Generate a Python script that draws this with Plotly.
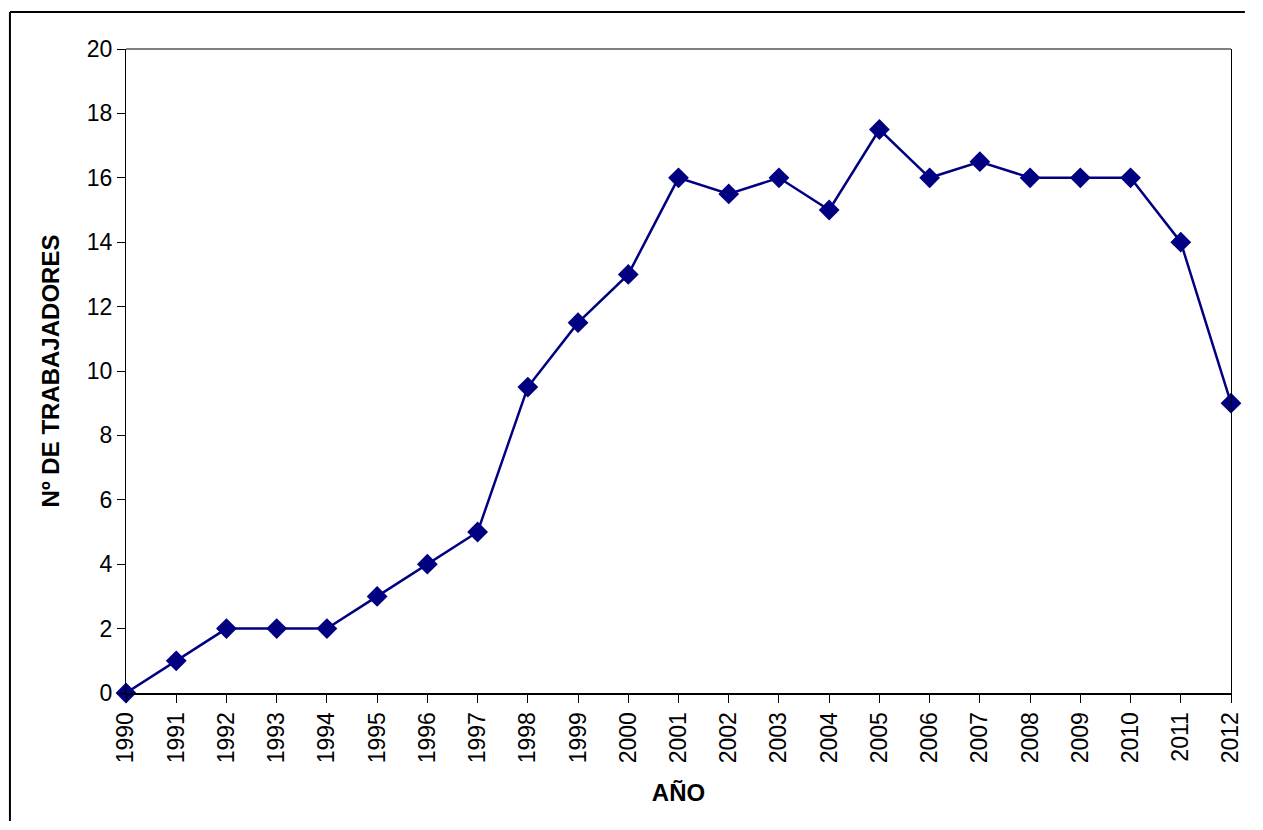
import plotly.graph_objects as go

years = list(range(1990, 2013))
workers = [0, 1, 2, 2, 2, 3, 4, 5, 9.5, 11.5, 13, 16, 15.5, 16, 15, 17.5, 16, 16.5, 16, 16, 16, 14, 9]
y_ticks = list(range(0, 21, 2))

OFF = 8  # page body margin
W, H = 1247, 814
L, R, T, B = 126 - OFF, 1240 - OFF, 49 - OFF, 693 - OFF
pw, ph = R - L, B - T

def px(x):
    return (x - OFF - L) / pw

def py(y):
    return (B - (y - OFF)) / ph

fig = go.Figure()
fig.add_trace(go.Scatter(
    x=years, y=workers, mode="lines+markers",
    line=dict(color="#000080", width=2.5),
    marker=dict(symbol="diamond", size=16, color="#000080"),
    cliponaxis=False, showlegend=False,
))

font_family = "Liberation Sans, Arial, sans-serif"

fig.update_layout(
    width=W, height=H,
    margin=dict(l=L, r=W - R, t=T, b=H - B, pad=0),
    paper_bgcolor="white", plot_bgcolor="white",
    font=dict(family=font_family, size=23, color="black"),
    xaxis=dict(
        range=[1990, 2012], tickmode="array", tickvals=years,
        ticktext=[str(y) for y in years], tickangle=-90,
        showgrid=False, zeroline=False,
        showline=True, linecolor="black", linewidth=2,
        ticks="outside", ticklen=8, tickwidth=1, tickcolor="black",
        title=dict(text="<b>AÑO</b>", font=dict(size=24), standoff=22),
    ),
    yaxis=dict(
        range=[0, 20], tickvals=y_ticks, showgrid=False, zeroline=False,
        showline=True, linecolor="black", linewidth=1, mirror=True,
        ticks="outside", ticklen=8, tickwidth=1, tickcolor="black",
        title=dict(text="<b>Nº DE TRABAJADORES</b>", font=dict(size=24), standoff=20),
    ),
)

# top border of plot area
fig.add_shape(type="line", xref="paper", yref="paper", x0=0, x1=1, y0=1, y1=1,
              line=dict(color="black", width=1))
# outer chart frame (left and top edges; the rest lies outside the view)
fig.add_shape(type="line", xref="paper", yref="paper",
              x0=px(9), x1=px(9), y0=py(12), y1=py(821),
              line=dict(color="black", width=2))
fig.add_shape(type="line", xref="paper", yref="paper",
              x0=px(9), x1=px(1254), y0=py(12), y1=py(12),
              line=dict(color="black", width=2))

fig.write_html("out.html")
